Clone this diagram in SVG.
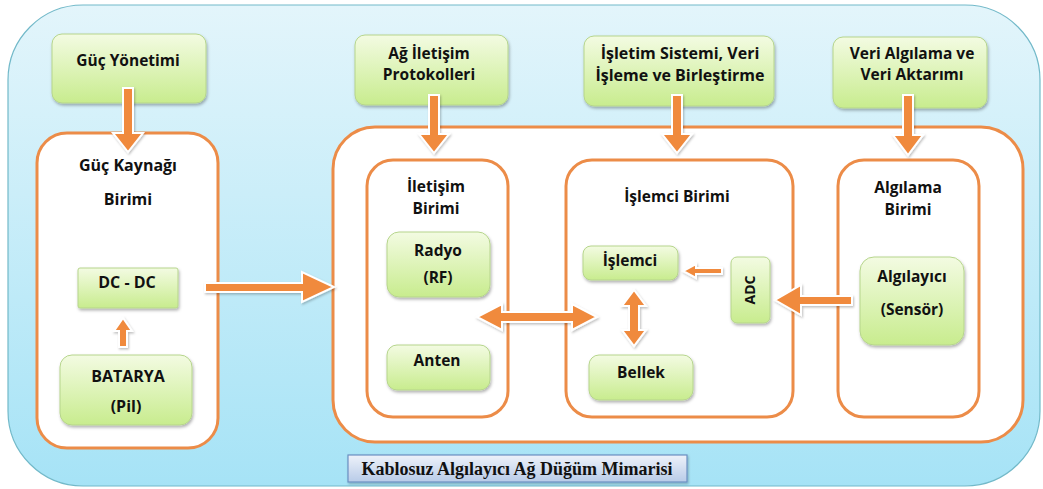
<svg xmlns="http://www.w3.org/2000/svg" width="1043" height="489" viewBox="0 0 1043 489">
  <defs>
    <linearGradient id="bg" x1="0" y1="0" x2="0" y2="1">
      <stop offset="0" stop-color="#e3f5fb"/>
      <stop offset="1" stop-color="#a6e3f6"/>
    </linearGradient>
    <linearGradient id="green" x1="0" y1="0" x2="0" y2="1">
      <stop offset="0" stop-color="#f3fbe2"/>
      <stop offset="1" stop-color="#c8ec8e"/>
    </linearGradient>
    <linearGradient id="cap" x1="0" y1="0" x2="0" y2="1">
      <stop offset="0" stop-color="#eef2fa"/>
      <stop offset="1" stop-color="#b8cbe8"/>
    </linearGradient>
    <filter id="sh" x="-20%" y="-20%" width="140%" height="150%">
      <feDropShadow dx="1" dy="2" stdDeviation="1.5" flood-color="#000" flood-opacity="0.3"/>
    </filter>
    <filter id="ash" x="-30%" y="-30%" width="160%" height="160%">
      <feDropShadow dx="1" dy="1.5" stdDeviation="1.2" flood-color="#000" flood-opacity="0.25"/>
    </filter>
  </defs>
  <style>
    .box { fill: url(#green); stroke: #b6d58c; stroke-width: 1; filter: url(#sh); }
    .unit { fill: #ffffff; stroke: #ec8c48; stroke-width: 3; }
    .arrow { fill: #f08a3e; stroke: #ffffff; stroke-width: 2; stroke-linejoin: miter; filter: url(#ash); }
    .t { font-family: "Open Sans", "Liberation Sans", Arial, sans-serif; font-weight: bold; font-size: 15.5px; fill: #111; text-anchor: middle; }
    .s14 { font-size: 14px; }
    .s16 { font-size: 16px; }
  </style>

  <!-- background panel -->
  <rect x="8" y="5" width="1032" height="481" rx="75" ry="75" fill="url(#bg)" stroke="#72b9c9" stroke-width="1.2"/>

  <!-- containers -->
  <g id="power-unit">
    <rect class="unit" x="37" y="133" width="181" height="315" rx="30" ry="30"/>
    <text class="t s16" x="128" y="171">Güç Kaynağı</text>
    <text class="t s16" x="128" y="205">Birimi</text>
  </g>
  <g id="node-body">
    <rect class="unit" x="333" y="127" width="690" height="315" rx="42" ry="42"/>
  </g>
  <g id="comm-unit">
    <rect class="unit" x="367" y="160" width="141" height="257" rx="26" ry="26"/>
    <text class="t" x="436" y="192">İletişim</text>
    <text class="t" x="436" y="214">Birimi</text>
  </g>
  <g id="cpu-unit">
    <rect class="unit" x="566" y="160" width="227" height="257" rx="26" ry="26"/>
    <text class="t" x="677" y="202">İşlemci Birimi</text>
  </g>
  <g id="sense-unit">
    <rect class="unit" x="838" y="160" width="141" height="257" rx="26" ry="26"/>
    <text class="t" x="908" y="193">Algılama</text>
    <text class="t" x="908" y="215">Birimi</text>
  </g>

  <!-- top boxes -->
  <g id="power-mgmt">
    <rect class="box" x="52" y="34" width="154" height="69" rx="10" ry="10"/>
    <text class="t" x="128" y="66">Güç Yönetimi</text>
  </g>
  <g id="net-protocols">
    <rect class="box" x="355" y="35" width="153" height="70" rx="10" ry="10"/>
    <text class="t" x="429" y="59">Ağ İletişim</text>
    <text class="t" x="429" y="80">Protokolleri</text>
  </g>
  <g id="os-processing">
    <rect class="box" x="584" y="36" width="190" height="70" rx="10" ry="10"/>
    <text class="t s16" x="680" y="59">İşletim Sistemi, Veri</text>
    <text class="t s16" x="680" y="81">İşleme ve Birleştirme</text>
  </g>
  <g id="data-sensing">
    <rect class="box" x="833" y="37" width="154" height="71" rx="10" ry="10"/>
    <text class="t" x="912" y="59">Veri Algılama ve</text>
    <text class="t" x="912" y="80">Veri Aktarımı</text>
  </g>

  <!-- inner boxes -->
  <g id="dcdc">
    <rect class="box" x="78" y="268" width="100" height="40" rx="2" ry="2"/>
    <text class="t s16" x="127" y="288">DC - DC</text>
  </g>
  <g id="battery">
    <rect class="box" x="60" y="355" width="132" height="70" rx="12" ry="12"/>
    <text class="t s16" x="128" y="382">BATARYA</text>
    <text class="t s16" x="126" y="412">(Pil)</text>
  </g>
  <g id="radio">
    <rect class="box" x="387" y="232" width="103" height="65" rx="12" ry="12"/>
    <text class="t" x="438" y="256">Radyo</text>
    <text class="t" x="438" y="283">(RF)</text>
  </g>
  <g id="antenna">
    <rect class="box" x="387" y="345" width="103" height="45" rx="10" ry="10"/>
    <text class="t" x="437" y="366">Anten</text>
  </g>
  <g id="processor">
    <rect class="box" x="583" y="246" width="95" height="34" rx="8" ry="8"/>
    <text class="t" x="630" y="266">İşlemci</text>
  </g>
  <g id="memory">
    <rect class="box" x="589" y="355" width="104" height="45" rx="10" ry="10"/>
    <text class="t" x="641" y="378">Bellek</text>
  </g>
  <g id="adc">
    <rect class="box" x="731" y="257" width="39" height="66" rx="6" ry="6"/>
    <text class="t s14" transform="translate(755 290) rotate(-90)">ADC</text>
  </g>
  <g id="sensor">
    <rect class="box" x="860" y="257" width="104" height="88" rx="14" ry="14"/>
    <text class="t" x="912" y="282">Algılayıcı</text>
    <text class="t" x="912" y="315">(Sensör)</text>
  </g>

  <!-- connectors -->
  <g id="connectors">
    <polygon class="arrow" points="123,88 133,88 133,133 143,133 128,152 113,133 123,133"/>
    <polygon class="arrow" points="429,95 439,95 439,134 449,134 434,153 419,134 429,134"/>
    <polygon class="arrow" points="672,95 682,95 682,134 692,134 677,153 662,134 672,134"/>
    <polygon class="arrow" points="903,95 913,95 913,135 923,135 908,155 893,135 903,135"/>
    <polygon class="arrow" points="205,283 302,283 302,272 334,287 302,302 302,292 205,292"/>
    <polygon class="arrow" points="119,347 127,347 127,331 132,331 123,318 114,331 119,331"/>
    <polygon class="arrow" points="477,317 502,304 502,312 572,312 572,304 597,317 572,330 572,322 502,322 502,330"/>
    <polygon class="arrow" points="634,290 646,306 639,306 639,330 646,330 634,346 622,330 629,330 629,306 622,306"/>
    <polygon class="arrow" points="722,268 696,268 696,264 683,271 696,278 696,274 722,274"/>
    <polygon class="arrow" points="852,296 801,296 801,285 775,300 801,315 801,305 852,305"/>
  </g>

  <!-- caption -->
  <g id="caption">
    <rect x="348" y="455" width="339" height="27" fill="url(#cap)" stroke="#6b8fc2" stroke-width="1.2" filter="url(#ash)"/>
    <text x="517" y="475" font-family="'Liberation Serif', 'Times New Roman', serif" font-weight="bold" font-size="18" fill="#111" text-anchor="middle">Kablosuz Algılayıcı Ağ Düğüm Mimarisi</text>
  </g>
</svg>
